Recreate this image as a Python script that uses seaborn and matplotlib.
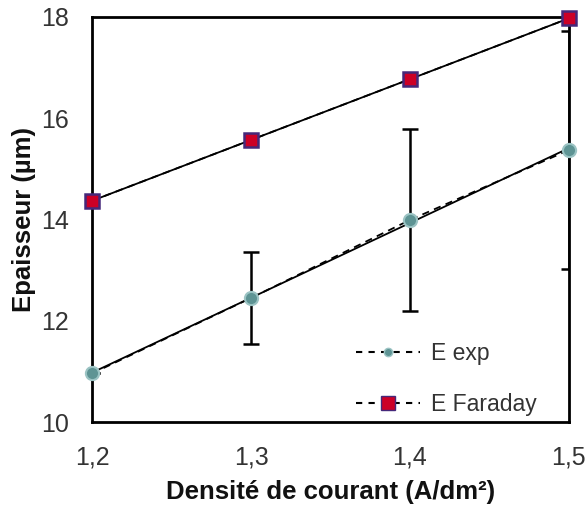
import numpy as np
import pandas as pd
import matplotlib
matplotlib.use("Agg")
import matplotlib.pyplot as plt
from matplotlib.lines import Line2D
import seaborn as sns

# Current density (A/dm²) and coating thickness (µm)
densite = [1.2, 1.3, 1.4, 1.5]
e_exp = [10.96, 12.45, 13.99, 15.37]
e_exp_err = [0.0, 0.9, 1.8, 2.35]
e_faraday = [14.37, 15.57, 16.77, 17.97]
x_ticks = [1.2, 1.3, 1.4, 1.5]
x_ticklabels = ["1,2", "1,3", "1,4", "1,5"]
y_ticks = [10, 12, 14, 16, 18]

sns.set_theme(style="white")
plt.rcParams["font.family"] = ["Liberation Sans", "DejaVu Sans"]

EXP_FACE, EXP_EDGE = "#5e9494", "#9cc4c4"
FAR_FACE, FAR_EDGE = "#cc0026", "#45287a"

fig = plt.figure(figsize=(5.87, 5.11), dpi=100)
ax = fig.add_axes([0.157, 0.174, 0.812, 0.793])

# Linear trendlines
for serie in (e_exp, e_faraday):
    sns.regplot(x=densite, y=serie, ax=ax, ci=None, scatter=False, truncate=True,
                line_kws=dict(color="black", lw=1.3, zorder=2))

# Error bars on the measured thickness
ax.errorbar(densite, e_exp, yerr=e_exp_err, fmt="none", ecolor="black",
            elinewidth=1.8, capsize=6, capthick=1.8, zorder=3)

# Data series: dashed black lines with coloured markers
sns.lineplot(x=densite, y=e_exp, ax=ax, color="black", lw=1.3, dashes=False,
             linestyle=(0, (4, 3)), marker="o", markersize=9.5,
             markerfacecolor=EXP_FACE, markeredgecolor=EXP_EDGE,
             markeredgewidth=1.5, zorder=4, clip_on=False)
sns.lineplot(x=densite, y=e_faraday, ax=ax, color="black", lw=1.3, dashes=False,
             linestyle=(0, (4, 3)), marker="s", markersize=10,
             markerfacecolor=FAR_FACE, markeredgecolor=FAR_EDGE,
             markeredgewidth=1.8, zorder=4, clip_on=False)

handles = [
    Line2D([], [], color="black", lw=1.5, linestyle=(0, (3, 3)), marker="o",
           markersize=6, markerfacecolor=EXP_FACE, markeredgecolor=EXP_EDGE),
    Line2D([], [], color="black", lw=1.5, linestyle=(0, (3, 3)), marker="s",
           markersize=10, markerfacecolor=FAR_FACE, markeredgecolor=FAR_EDGE),
]
ax.legend(handles, ["E exp", "E Faraday"], loc="lower right",
          bbox_to_anchor=(0.977, -0.035), frameon=False, fontsize=16.5,
          handlelength=2.8, labelspacing=1.2, handletextpad=0.5,
          labelcolor="#333333")

ax.set_xlim(1.2, 1.5)
ax.set_ylim(10, 18)
ax.set_xticks(x_ticks)
ax.set_xticklabels(x_ticklabels)
ax.set_yticks(y_ticks)
ax.tick_params(axis="both", labelsize=18, labelcolor="#333333", direction="inout",
               length=9, width=1.2, color="black", pad=12)
for s in ax.spines.values():
    s.set_visible(True)
    s.set_color("black")
    s.set_linewidth(2)

ax.set_xlabel("Densité de courant (A/dm²)", fontsize=18.5, fontweight="bold",
              labelpad=8, color="#111111")
ax.set_ylabel("Epaisseur (µm)", fontsize=18.5, fontweight="bold", labelpad=4,
              color="#111111")

fig.savefig("out.png", dpi=100, facecolor="white")
